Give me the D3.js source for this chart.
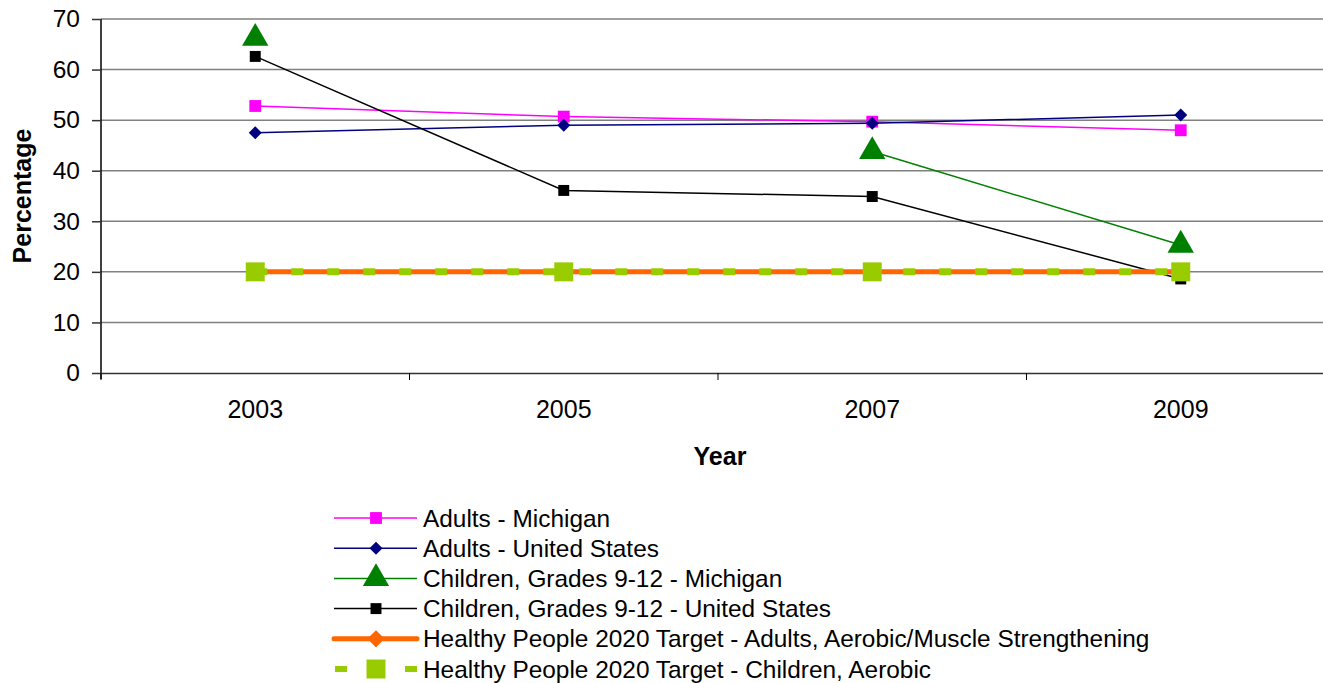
<!DOCTYPE html>
<html><head><meta charset="utf-8">
<script src="https://cdn.jsdelivr.net/npm/d3@7"></script>
<style>body{margin:0;background:#fff;}svg{display:block;font-family:Arial,"Liberation Sans",sans-serif;}</style>
</head><body>
<svg id="c" width="1323" height="683"></svg>
<script>
const years = ["2003","2005","2007","2009"];
const adultsMI = [52.8, 50.7, 49.7, 48.0];
const adultsUS = [47.5, 49.0, 49.4, 51.0];
const childMI = [66.2, null, 43.8, 25.3];
const childUS = [62.6, 36.1, 34.9, 18.6];
const targetAdults = [20, 20, 20, 20];
const targetChild = [20, 20, 20, 20];
const yTicks = [0,10,20,30,40,50,60,70];
const seriesNames = ["Adults - Michigan","Adults - United States","Children, Grades 9-12 - Michigan","Children, Grades 9-12 - United States","Healthy People 2020 Target - Adults, Aerobic/Muscle Strengthening","Healthy People 2020 Target - Children, Aerobic"];

const svg = d3.select("#c");
const x = d3.scaleBand().domain(years).range([101, 1335]);
const y = d3.scaleLinear().domain([0,70]).range([373, 19]);
const cx = d => x(d) + x.bandwidth()/2;
const FF = "Arial, Liberation Sans, sans-serif";

// gridlines
svg.append("g").selectAll("line").data(yTicks.filter(t=>t>0)).join("line")
  .attr("x1",101).attr("x2",1335).attr("y1",d=>y(d)).attr("y2",d=>y(d))
  .attr("stroke","#808080").attr("stroke-width",1.5);

// y axis
const ya = svg.append("g").attr("transform","translate(101,0)")
  .call(d3.axisLeft(y).tickValues(yTicks).tickSize(9).tickPadding(12));
ya.select(".domain").attr("stroke","#000").attr("stroke-width",1.5).attr("d","M0,19V379");
ya.selectAll(".tick line").attr("stroke","#333").attr("stroke-width",1.5);
ya.selectAll("text").attr("font-size",24.5).attr("fill","#000").attr("font-family",FF);

// x axis
const xa = svg.append("g").attr("transform","translate(0,373)")
  .call(d3.axisBottom(x).tickSize(0).tickPadding(27));
xa.select(".domain").attr("stroke","#333").attr("stroke-width",1.5);
xa.selectAll("text").attr("font-size",25).attr("fill","#000").attr("font-family",FF);
// category separator ticks
svg.append("g").selectAll("line").data(years).join("line")
  .attr("x1",d=>x(d)).attr("x2",d=>x(d)).attr("y1",373).attr("y2",380)
  .attr("stroke","#000").attr("stroke-width",1);

// axis titles
svg.append("text").attr("x",720).attr("y",465).attr("text-anchor","middle")
  .attr("font-size",25).attr("font-weight","bold").text("Year");
svg.append("text").attr("transform","translate(31,196) rotate(-90)").attr("text-anchor","middle")
  .attr("font-size",25).attr("font-weight","bold").text("Percentage");

const sym = (type, size) => d3.symbol().type(type).size(size)();
function drawSeries(vals, color, width, dash, marker){
  const line = d3.line().defined(d=>d[1]!=null).x(d=>cx(d[0])).y(d=>y(d[1]));
  const data = years.map((yr,i)=>[yr, vals[i]]);
  svg.append("path").datum(data).attr("d",line).attr("fill","none")
    .attr("stroke",color).attr("stroke-width",width).attr("stroke-dasharray",dash||null);
  svg.append("g").selectAll("path").data(data.filter(d=>d[1]!=null)).join("path")
    .attr("transform",d=>`translate(${cx(d[0])},${y(d[1])}) rotate(${marker.rot||0})`)
    .attr("d",marker.d).attr("fill",marker.fill);
}
const markers = [
  {color:"#ff00ff", w:1.5, d:sym(d3.symbolSquare,140), fill:"#ff00ff"},
  {color:"#000080", w:1.5, d:sym(d3.symbolSquare,85), fill:"#000080", rot:45},
  {color:"#008000", w:1.5, d:sym(d3.symbolTriangle,300), fill:"#008000"},
  {color:"#000000", w:1.5, d:sym(d3.symbolSquare,120), fill:"#000000"},
  {color:"#ff6600", w:5, d:sym(d3.symbolSquare,150), fill:"#ff6600", rot:45},
  {color:"#99cc00", w:7, d:sym(d3.symbolSquare,360), fill:"#99cc00", dash:"12,24"}
];
const allVals = [adultsMI, adultsUS, childMI, childUS, targetAdults, targetChild];
// draw order: adults, children, then targets on top
[0,1,3,2,4,5].forEach(i=>{
  const m = markers[i];
  drawSeries(allVals[i], m.color, m.w, m.dash, {d:m.d, fill:m.fill, rot:m.rot});
});

// legend
const lg = svg.append("g");
seriesNames.forEach((name,i)=>{
  const m = markers[i];
  const yy = 518 + i*30.2;
  if(i===5){
    lg.append("line").attr("x1",335).attr("x2",347).attr("y1",yy).attr("y2",yy).attr("stroke",m.color).attr("stroke-width",6);
    lg.append("line").attr("x1",405).attr("x2",417).attr("y1",yy).attr("y2",yy).attr("stroke",m.color).attr("stroke-width",6);
  } else {
    lg.append("line").attr("x1",334).attr("x2",417).attr("y1",yy).attr("y2",yy).attr("stroke",m.color).attr("stroke-width",m.w)
      .attr("stroke-linecap", i===4 ? "round" : null);
  }
  lg.append("path").attr("transform",`translate(376,${yy}) rotate(${m.rot||0})`).attr("d",m.d).attr("fill",m.fill);
  lg.append("text").attr("x",423).attr("y",yy+8.5).attr("font-size",24.4).attr("font-family",FF).text(name);
});
</script>
</body></html>
